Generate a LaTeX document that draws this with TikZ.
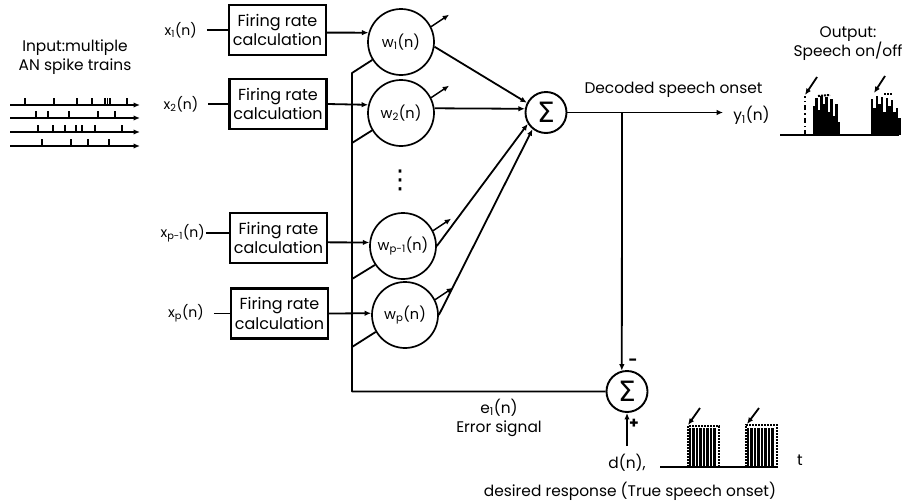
\documentclass[tikz,border=0pt]{standalone}
\usepackage{fontspec}
\setmainfont{Poppins}
\newfontfamily\sigmafont{DejaVu Sans}
\usetikzlibrary{arrows.meta,positioning}
\tikzset{
  lab/.style={font=\fontsize{15.4}{19}\selectfont, align=center, inner sep=0pt},
  inlab/.style={lab, font=\fontsize{14}{17}\selectfont, inner sep=10pt},
  ratebox/.style={rectangle, draw=black, line width=2.2pt, align=center, font=\fontsize{16}{19.5}\selectfont,
                  minimum width=97pt, minimum height=50pt, inner sep=0pt},
  weight/.style={circle, draw=black, line width=1.7pt, font=\fontsize{14.5}{15}\selectfont, minimum size=66pt, inner sep=0pt},
  summer/.style={circle, draw=black, line width=1.9pt, font=\sigmafont\fontsize{28}{28}\selectfont, minimum size=41pt, inner sep=0pt},
  wire/.style={line width=1.8pt, draw=black},
  arr/.style={-{Latex[length=6.5pt,width=5.5pt]}, line width=1.8pt, draw=black},
  spike/.style={line width=1.3pt, draw=black},
  burst/.style={line width=2.2pt, draw=black},
  envelope/.style={line width=2pt, draw=black, densely dotted},
}
\begin{document}
\begin{tikzpicture}[x=1pt, y=-1pt]
    \useasboundingbox (0,0) rectangle (919,501);
    \node[lab] (title) at (75,57.5) {Input:multiple\\AN spike trains};
    % spike trains
    \foreach \i/\y/\spikes in {1/105/{25,54,77,92,105,107.5,110,127}, 2/118/{36,48,69,98,115},
        3/132/{38,53,65,76,82,95,122}, 4/146/{42,71,88,109}} {
      \coordinate (start\i) at (10,\y);
      \coordinate (end\i) at (140,\y);
      \draw[arr] (start\i) -- (end\i);
      \foreach \s in \spikes \draw[spike] (\s,\y) -- (\s,\y-7);
    }
    % rate boxes
    \node[ratebox] (box1) at (277.5,30) {Firing rate\\calculation};
    \node[ratebox] (box2) at (278,104) {Firing rate\\calculation};
    \node[ratebox] (box3) at (278.5,238) {Firing rate\\calculation};
    \node[ratebox] (box4) at (279.5,313.5) {Firing rate\\calculation};
    \node[inlab, left=21pt of box1] (x1) {x\textsubscript{1}(n)};
    \node[inlab, left=20pt of box2] (x2) {x\textsubscript{2}(n)};
    \node[inlab, left=23pt of box3, yshift=5pt, inner sep=1pt] (x3) {x\textsubscript{p-1}(n)};
    \node[inlab, left=16pt of box4] (x4) {x\textsubscript{p}(n)};
    \node[weight] (w1) at (401,42) {w\textsubscript{1}(n)};
    \node[weight] (w2) at (401,113) {w\textsubscript{2}(n)};
    \node[weight] (w3) at (403,246) {w\textsubscript{p-1}(n)};
    \node[weight] (w4) at (405,315) {w\textsubscript{p}(n)};
    \node[lab, font=\sigmafont\fontsize{26}{26}\selectfont] (dots) at (400,180) {⋮};
    \node[summer] (sig1) at (546,112.5) {Σ};
    \node[summer] (sig2) at (627,391.5) {Σ};
    \foreach \n in {1,2,3,4} \draw[wire] (x\n.east) -- (box\n.west |- x\n.east);
    \draw[arr] (box1.-3.5) -- (w1.164);
    \draw[arr] (box2.east) -- (w2.166);
    \draw[arr] (box3.-5) -- (w3.174);
    \draw[arr] (box4.east) -- (w4.177);
    % weight adjust arrows
    \foreach \n in {1,2,3,4} {
      \path (w\n.27) ++(18,-12) coordinate (adj\n);
      \draw[arr, line width=1.4pt] (w\n.27) -- (adj\n);
    }
    \draw[arr] (w1.-8) -- (sig1.153);
    \draw[arr] (w2.8) -- (sig1.170);
    \draw[arr] (w3.east) -- (sig1.212);
    \draw[arr] (w4.east) -- (sig1.231);
    % error bus
    \coordinate (bus1) at (352,73);
    \coordinate (bus2) at (352,143);
    \coordinate (bus3) at (352,279);
    \coordinate (bus4) at (352,347);
    \draw[wire, line join=round] (w1.212) -- (bus1) |- (sig2.west);
    \draw[wire] (w2.211) -- (bus2);
    \draw[wire] (w3.214) -- (bus3);
    \draw[wire] (w4.210) -- (bus4);
    % output
    \node[lab, inner sep=10pt] (y1) at (751.5,115) {y\textsubscript{1}(n)};
    \draw[arr] (sig1.east) -- (sig1.east -| y1.west);
    \node[lab] (onset) at (673.5,90) {Decoded speech onset};
    \coordinate (tee) at (622,113);
    \draw[arr] (tee) -- (sig2.104);
    \node[lab] (minus) at (633,362) {\textbf{-}};
    \node[lab] (plus) at (634,424) {\textbf{+}};
    \node[lab] (err) at (499,417.5) {e\textsubscript{1}(n)\\Error signal};
    \node[lab, inner sep=8pt] (d) at (627,463) {d(n),};
    \draw[arr] (d.north) -- (sig2.south);
    \node[lab] (desired) at (630,491) {desired response (True speech onset)};
    \node[lab] (tlab) at (800,460) {t};
    \node[lab] (outlab) at (848,44) {Output:\\Speech on/off};
    % output plot
    \coordinate (base1) at (780,135);
    \coordinate (base1e) at (899,135);
    \draw[line width=2.2pt] (base1) -- (base1e);
    \foreach \x/\h in {814/106,816.5/98,819/110,821.5/96,824/104,826.5/97,829/112,831.5/99,834/116,836.5/104,839/122,
        872/99,874.5/108,877/96,879.5/104,882/97,884.5/112,887/98,889.5/106,892/100,894.5/112,897/108,899.5/118}
      \draw[burst] (\x,135) -- (\x,\h);
    \draw[envelope, dash pattern=on 5pt off 3pt on 1.5pt off 3pt] (805,135) -- (805,96);
    \draw[envelope] (818,96) -- (830,95);
    \draw[envelope] (884,94) -- (893,94);
    \coordinate (onA) at (817,77);
    \coordinate (onAe) at (805,95);
    \coordinate (onB) at (885,76);
    \coordinate (onBe) at (874,93);
    \draw[arr] (onA) -- (onAe);
    \draw[arr] (onB) -- (onBe);
    % desired plot
    \coordinate (base2) at (660,467);
    \coordinate (base2e) at (778,467);
    \draw[line width=2.2pt] (base2) -- (base2e);
    \foreach \x in {690,693.5,...,717,748,751.5,...,775} \draw[burst] (\x,467) -- (\x,428);
    \draw[envelope] (688,467) -- (688,426) -- (719,426) -- (719,467);
    \draw[envelope] (746,467) -- (746,425) -- (777,425) -- (777,467);
    \coordinate (trA) at (700,408);
    \coordinate (trAe) at (688,425);
    \coordinate (trB) at (759,408);
    \coordinate (trBe) at (747,424);
    \draw[arr] (trA) -- (trAe);
    \draw[arr] (trB) -- (trBe);
  \end{tikzpicture}
\end{document}
